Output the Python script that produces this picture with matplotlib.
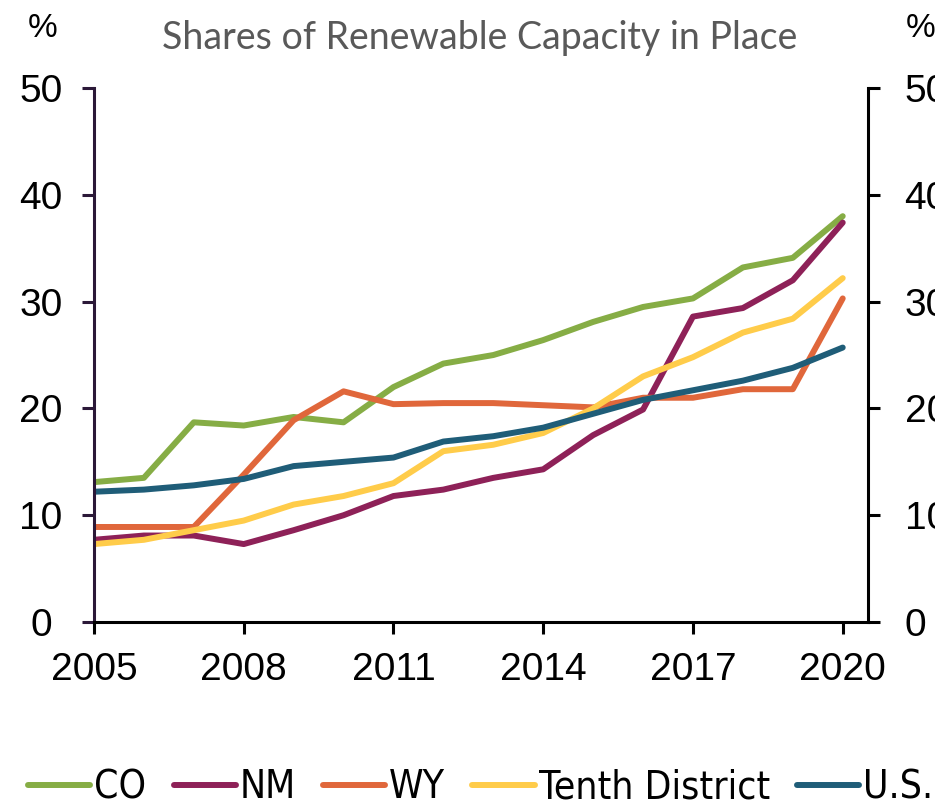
import numpy as np
import matplotlib.pyplot as plt
from matplotlib import font_manager as fm
from matplotlib.lines import Line2D

years = np.arange(2005, 2021)

co = [13.1, 13.5, 18.7, 18.4, 19.2, 18.7, 22.0, 24.2, 25.0, 26.4, 28.1, 29.5, 30.3, 33.2, 34.1, 38.0]
nm = [7.7, 8.1, 8.1, 7.3, 8.6, 10.0, 11.8, 12.4, 13.5, 14.3, 17.5, 19.9, 28.6, 29.4, 32.0, 37.4]
wy = [8.9, 8.9, 8.9, 13.8, 18.9, 21.6, 20.4, 20.5, 20.5, 20.3, 20.1, 21.0, 21.0, 21.8, 21.8, 30.3]
tenth = [7.3, 7.7, 8.6, 9.5, 11.0, 11.8, 13.0, 16.0, 16.6, 17.7, 20.0, 23.0, 24.8, 27.1, 28.4, 32.2]
us = [12.2, 12.4, 12.8, 13.4, 14.6, 15.0, 15.4, 16.9, 17.4, 18.2, 19.5, 20.8, 21.7, 22.6, 23.8, 25.7]

series_names = ["CO", "NM", "WY", "Tenth District", "U.S."]
series_values = [co, nm, wy, tenth, us]
colors = ["#86ad45", "#8e2158", "#e0673b", "#ffcc4a", "#1f5d78"]

x_ticks = [2005, 2008, 2011, 2014, 2017, 2020]
y_ticks = [0, 10, 20, 30, 40, 50]

plt.rcParams["font.family"] = ["Liberation Sans", "DejaVu Sans"]

# narrow font for the legend if one is installed
installed = {f.name for f in fm.fontManager.ttflist}
condensed = {f.name for f in fm.fontManager.ttflist if f.stretch in ("condensed", "semi-condensed")}
if "Liberation Sans Narrow" in installed:
    legend_prop = {"family": "Liberation Sans Narrow", "size": 30}
elif "DejaVu Sans" in condensed:
    legend_prop = {"family": "DejaVu Sans", "stretch": "condensed", "size": 28}
else:
    legend_prop = {"family": "Liberation Sans", "size": 26}

fig = plt.figure(figsize=(9.35, 8.09), dpi=100)
ax = fig.add_axes([0.1005, 0.2311, 0.8275, 0.6601])

# ---------------------------------------------------
# Lines
# ---------------------------------------------------
for name, vals, c in zip(series_names, series_values, colors):
    ax.plot(years, vals, color=c, linewidth=4.3, label=name, solid_capstyle="round")

ax.set_xlim(2005, 2020.5)
ax.set_ylim(0, 50)
ax.set_xticks(x_ticks)
ax.set_yticks(y_ticks)

for s in ["top", "right"]:
    ax.spines[s].set_visible(False)
ax.spines["left"].set_color("#2b1838")
ax.spines["left"].set_linewidth(2.2)
ax.spines["bottom"].set_linewidth(2.2)
ax.tick_params(axis="y", direction="out", length=8.6, width=2.2, color="#2b1838",
               labelsize=28, pad=29.5)
ax.tick_params(axis="x", direction="out", length=8.6, width=2.2, labelsize=28, pad=13)
for lab in ax.get_yticklabels():
    lab.set_horizontalalignment("center")

# right axis
ax2 = ax.twinx()
ax2.set_ylim(0, 50)
ax2.set_yticks(y_ticks)
for s in ["top", "left", "bottom"]:
    ax2.spines[s].set_visible(False)
ax2.spines["right"].set_linewidth(2.2)
ax2.tick_params(axis="y", direction="out", length=8.6, width=2.2, labelsize=28, pad=18)

# ---------------------------------------------------
# Titles
# ---------------------------------------------------
fig.text(0.513, 0.953, "Shares of Renewable Capacity in Place", ha="center", va="center",
         fontsize=27, color="#595959", family=["Lato", "DejaVu Sans"])
fig.text(0.046, 0.965, "%", ha="center", va="center", fontsize=24)
fig.text(0.985, 0.965, "%", ha="center", va="center", fontsize=24)

# ---------------------------------------------------
# Legend
# ---------------------------------------------------
handles = [Line2D([], [], color=c, linewidth=4.3, solid_capstyle="round") for c in colors]
fig.legend(handles, series_names, loc="center left", bbox_to_anchor=(0.03, 0.027),
           ncol=5, frameon=False, handlelength=1.6, handletextpad=0.1,
           columnspacing=0.7, borderpad=0, borderaxespad=0, prop=legend_prop)

fig.savefig("out.png", dpi=100)
